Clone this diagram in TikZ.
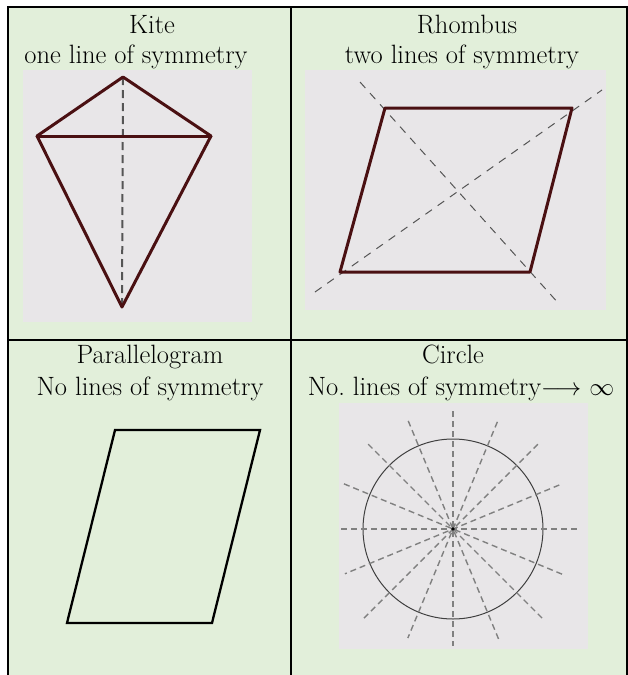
\documentclass[tikz,border=0pt]{standalone}
\usetikzlibrary{calc}
\definecolor{cellgreen}{HTML}{E2EFDA}
\definecolor{picgrey}{HTML}{E8E6E8}
\definecolor{maroon}{HTML}{4A1012}
\definecolor{dashgrey}{HTML}{555555}
\begin{document}
\frenchspacing
\begin{tikzpicture}[x=1pt,y=-1pt,
  title/.style={anchor=base,inner sep=0pt,font=\fontsize{26.5}{30}\selectfont},
  border/.style={line width=1.5pt,black},
  maroonline/.style={line width=3pt,maroon,line join=round,line cap=round},
  thindash/.style={line width=1pt,dashgrey,dash pattern=on 8pt off 7pt},
  circdash/.style={line width=1.4pt,gray,dash pattern=on 6pt off 4pt}]
\useasboundingbox (0,0) rectangle (628,675);
\fill[white] (0,0) rectangle (628,675);
\fill[cellgreen] (8,7) rectangle (627,675);
% grey picture backgrounds
\fill[picgrey] (23,70) rectangle (252,322);
\fill[picgrey] (305,70) rectangle (606,310);
\fill[picgrey] (339,403) rectangle (588,649);
% borders
\draw[border] (8,675) -- (8,7) -- (627,7) -- (627,675);
\draw[border] (291,7) -- (291,675);
\draw[border] (8,340) -- (627,340);
% titles
\node[title] (t1a) at (152,33) {Kite};
\node[title] (t1b) at (136,63) {one line of symmetry};
\node[title] (t2a) at (467,33) {Rhombus};
\node[title] (t2b) at (462,63) {two lines of symmetry};
\node[title] (t3a) at (150,363) {Parallelogram};
\node[title] (t3b) at (150,395) {No lines of symmetry};
\node[title] (t4a) at (453,363) {Circle};
\node[title] (t4b) at (461,395) {No. lines of symmetry$\longrightarrow$ $\infty$};
% kite
\coordinate (kT) at (123,77);
\coordinate (kL) at (37,136);
\coordinate (kR) at (211,136);
\coordinate (kB) at (122,307);
\draw[line width=2pt,dashgrey,dash pattern=on 8pt off 5pt] (kT) -- (kB);
\draw[maroonline] (kT) -- (kR) -- (kB) -- (kL) -- cycle;
\draw[maroonline] (kL) -- (kR);
% rhombus
\coordinate (rTL) at (385,108);
\coordinate (rTR) at (572,108);
\coordinate (rBR) at (530,272);
\coordinate (rBL) at (340,272);
\draw[thindash] (360,82) -- (560,305);
\draw[thindash] (315,292) -- (602,90);
\draw[maroonline] (rTL) -- (rTR) -- (rBR) -- (rBL) -- cycle;
% parallelogram
\coordinate (pTL) at (115,430);
\coordinate (pTR) at (260,430);
\coordinate (pBR) at (212,623);
\coordinate (pBL) at (67,623);
\draw[line width=2.3pt,black,line join=miter] (pTL) -- (pTR) -- (pBR) -- (pBL) -- cycle;
% circle
\coordinate (cC) at (453,529);
\draw[line width=1pt,black!75] (cC) circle (90);
\foreach \a/\l/\r in {0/112/125, 22.5/118/120, 45/120/126, 67.5/117/123, 90/118/117, 112.5/116/118, 135/120/126, 157.5/115/117}{
  \draw[circdash] ($(cC)+(\a+180:\l)$) -- ($(cC)+(\a:\r)$);
}
\fill[black] (cC) circle (1.8);
\end{tikzpicture}
\end{document}
